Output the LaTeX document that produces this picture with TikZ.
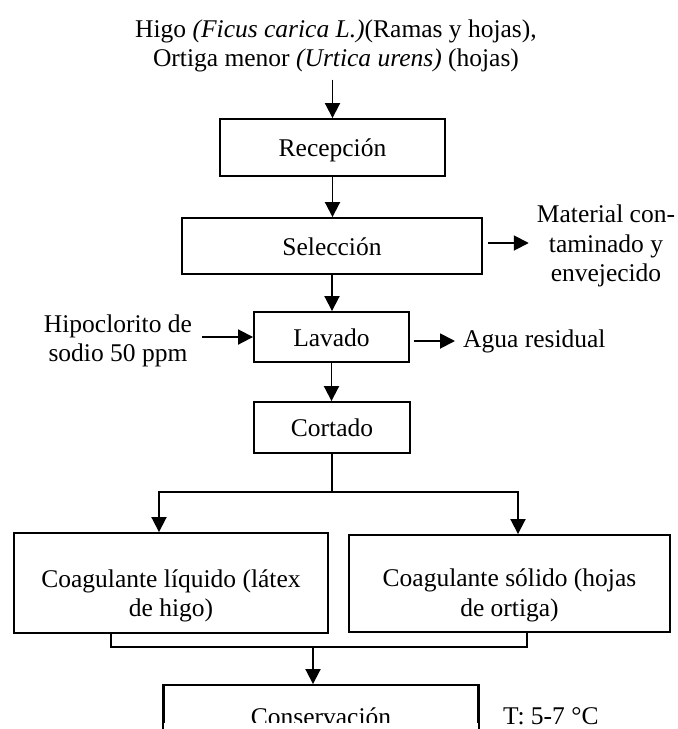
\documentclass[tikz,border=0pt]{standalone}
\usepackage{fontspec}
\setmainfont{Liberation Serif}
\usetikzlibrary{arrows.meta}
\begin{document}
\begin{tikzpicture}[x=1pt,y=-1pt,
  font=\fontsize{25.5}{29.5}\selectfont,
  box/.style={draw, line width=1.9pt, inner sep=0pt, text height=18pt, text depth=0pt, align=center},
  bigbox/.style={draw, line width=1.9pt, inner sep=0pt},
  ln/.style={line width=1.9pt},
  arr/.style={line width=1.9pt, -{Triangle[length=15pt,width=15pt]}},
  lbl/.style={inner sep=0pt, align=center}]
\useasboundingbox (0,0) rectangle (678,729);
\clip (0,0) rectangle (678,729);

% nodes
\node[lbl] (src) at (336,46) {Higo \textit{(Ficus carica L.)}(Ramas y hojas),\\Ortiga menor \textit{(Urtica urens)} (hojas)};
\node[box, minimum width=225pt, minimum height=57pt] (rec) at (332.5,147.5) {Recepción};
\node[box, minimum width=300pt, minimum height=56pt] (sel) at (332,246) {Selección};
\node[lbl] (mat) at (606,246) {Material con-\\taminado y\\envejecido};
\node[box, minimum width=155pt, minimum height=50pt] (lav) at (331.5,337) {Lavado};
\node[lbl] (hip) at (118,341) {Hipoclorito de\\sodio 50 ppm};
\node[lbl, anchor=west, text height=12pt, text depth=0pt] (agua) at (463,341) {Agua residual};
\node[box, minimum width=156pt, minimum height=51pt] (cor) at (332,427.5) {Cortado};
\node[bigbox, minimum width=314pt, minimum height=100pt] (liq) at (171,583)
  {\raisebox{-13pt}[\height][\depth]{\begin{tabular}{@{}c@{}}Coagulante líquido (látex\\de higo)\end{tabular}}};
\node[bigbox, minimum width=321pt, minimum height=97pt] (sol) at (509.5,583.5)
  {\raisebox{-12pt}[\height][\depth]{\begin{tabular}{@{}c@{}}Coagulante sólido (hojas\\de ortiga)\end{tabular}}};
\begin{scope}
  \clip (0,0) rectangle (678,722);
  \node[box, minimum width=314pt, minimum height=62pt] (cons) at (321,716) {Conservación};
\end{scope}
\draw[ln] (cons.north west) -- (cons.south west);
\draw[ln] (cons.north east) -- (cons.south east);
\node[lbl, anchor=base west] (temp) at (503,724) {T: 5-7 °C};

% connectors
\draw[arr, shorten <=7pt] (src.south -| rec.north) -- (rec.north);
\draw[arr] (rec.south) -- (rec.south |- sel.north);
\draw[arr] (sel.south) -- (sel.south |- lav.north);
\draw[arr] (lav.south) -- (lav.south |- cor.north);
\draw[arr, shorten <=5pt, shorten >=8pt] ([yshift=3pt]sel.east) -- ([yshift=3pt]sel.east -| mat.west);
\draw[arr, shorten <=10pt] (hip.east |- lav.west) -- (lav.west);
\draw[arr, shorten <=4pt, shorten >=8pt] (lav.east |- agua.west) -- (agua.west);

\coordinate (br) at (332,492);
\coordinate (bl) at (159,492);
\coordinate (bra) at (518,492);
\draw[arr] (cor.south) |- (bl) -- (bl |- liq.north);
\draw[arr] (br) -- (bra) -- (bra |- sol.north);

\coordinate (ml) at (111,647);
\coordinate (mr) at (527,647);
\coordinate (mc) at (313,647);
\draw[ln] (ml |- liq.south) -- (ml) -- (mr) -- (mr |- sol.south);
\draw[arr] (mc) -- (mc |- cons.north);
\end{tikzpicture}
\end{document}
